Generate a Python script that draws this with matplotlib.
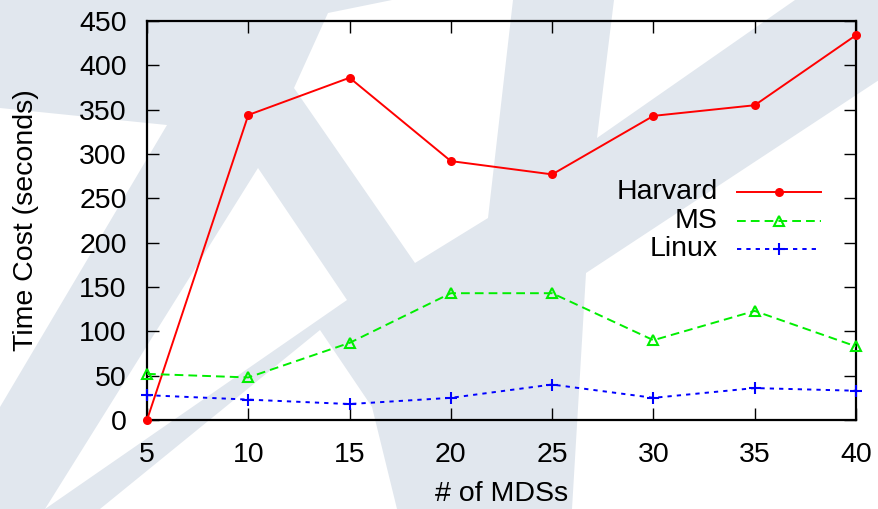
"""Time cost vs number of MDSs for three traces (gnuplot-style line chart)."""

import matplotlib

matplotlib.use("Agg")
import matplotlib.pyplot as plt
from matplotlib.lines import Line2D
from matplotlib.patches import Polygon

plt.rcParams["font.family"] = ["Liberation Sans", "DejaVu Sans"]

# ---- data -------------------------------------------------------------
mds = [5, 10, 15, 20, 25, 30, 35, 40]
harvard = [0, 344, 386, 292, 277, 343, 355, 434]
ms = [52, 48, 87, 143, 143, 90, 123, 83]
linux = [28, 23, 18, 25, 40, 25, 36, 33]

x_ticks = [5, 10, 15, 20, 25, 30, 35, 40]
y_ticks = [0, 50, 100, 150, 200, 250, 300, 350, 400, 450]

# ---- background watermark (pixel coords, y down) -----------------------
WM_GRAY = "#e1e7ee"
wm_white = [
    [(328, 13), (392, 0), (513, 0), (488, 218), (415, 263), (294, 88)],
    [(614, 0), (795, 0), (597, 138)],
    [(879, 80), (586, 273), (572, 509), (879, 509)],
    [(258, 168), (347, 300), (45, 509)],
    [(0, 108), (167, 125), (0, 407)],
    [(320, 330), (372, 407), (397, 509), (100, 509)],
]

W, H = 879, 509
fig = plt.figure(figsize=(W / 100, H / 100), dpi=100, facecolor=WM_GRAY)
bg = fig.add_axes([0, 0, 1, 1], zorder=0)
bg.set_xlim(0, W)
bg.set_ylim(H, 0)
bg.axis("off")
for poly in wm_white:
    bg.add_patch(Polygon(poly, closed=True, facecolor="white", edgecolor="none"))

# ---- main axes ----------------------------------------------------------
left, right, bottom, top = 147, 856, 420, 21
ax = fig.add_axes([left / W, 1 - bottom / H, (right - left) / W, (bottom - top) / H], zorder=1)
ax.set_facecolor("none")

FS = 20.5
styles = [
    ("Harvard", harvard, dict(color="#ff0000", linestyle="-", marker="o", markersize=6.5,
                              markerfacecolor="#ff0000", markeredgewidth=0)),
    ("MS", ms, dict(color="#00ee00", linestyle=(0, (4.5, 2.6)), marker="^", markersize=7.5,
                    markerfacecolor="none", markeredgewidth=1.5)),
    ("Linux", linux, dict(color="#0000ff", linestyle=(0, (2.2, 2.6)), marker="+", markersize=8,
                          markeredgewidth=1.5)),
]
for name, vals, kw in styles:
    ax.plot(mds, vals, linewidth=1.4, clip_on=False, zorder=3, **kw)

ax.set_xlim(5, 40)
ax.set_ylim(0, 450)
ax.set_xticks(x_ticks)
ax.set_yticks(y_ticks)
ax.tick_params(direction="in", length=8.6, width=1.0, labelsize=FS,
               top=True, right=True, colors="black")
ax.tick_params(axis="x", pad=15.5)
ax.tick_params(axis="y", pad=14.5)
for sp in ax.spines.values():
    sp.set_linewidth(1.6)

ax.set_xlabel("# of MDSs", fontsize=FS, labelpad=10)
ax.set_ylabel("Time Cost (seconds)", fontsize=FS, labelpad=29)

# gnuplot-like key: right-aligned text, sample to its right
LINE_KEYS = ("color", "linestyle")
row_y = [0.571, 0.499, 0.429]
for (name, vals, kw), yk in zip(styles, row_y):
    ax.text(0.805, yk, name, transform=ax.transAxes, ha="right", va="center", fontsize=FS)
    ax.add_line(Line2D([0.832, 0.951], [yk, yk], transform=ax.transAxes, linewidth=1.4,
                       **{k: kw[k] for k in LINE_KEYS}))
    ax.add_line(Line2D([0.891], [yk], transform=ax.transAxes, linestyle="none",
                       **{k: v for k, v in kw.items() if k != "linestyle"}))

fig.savefig("out.png", dpi=100, facecolor=WM_GRAY)
